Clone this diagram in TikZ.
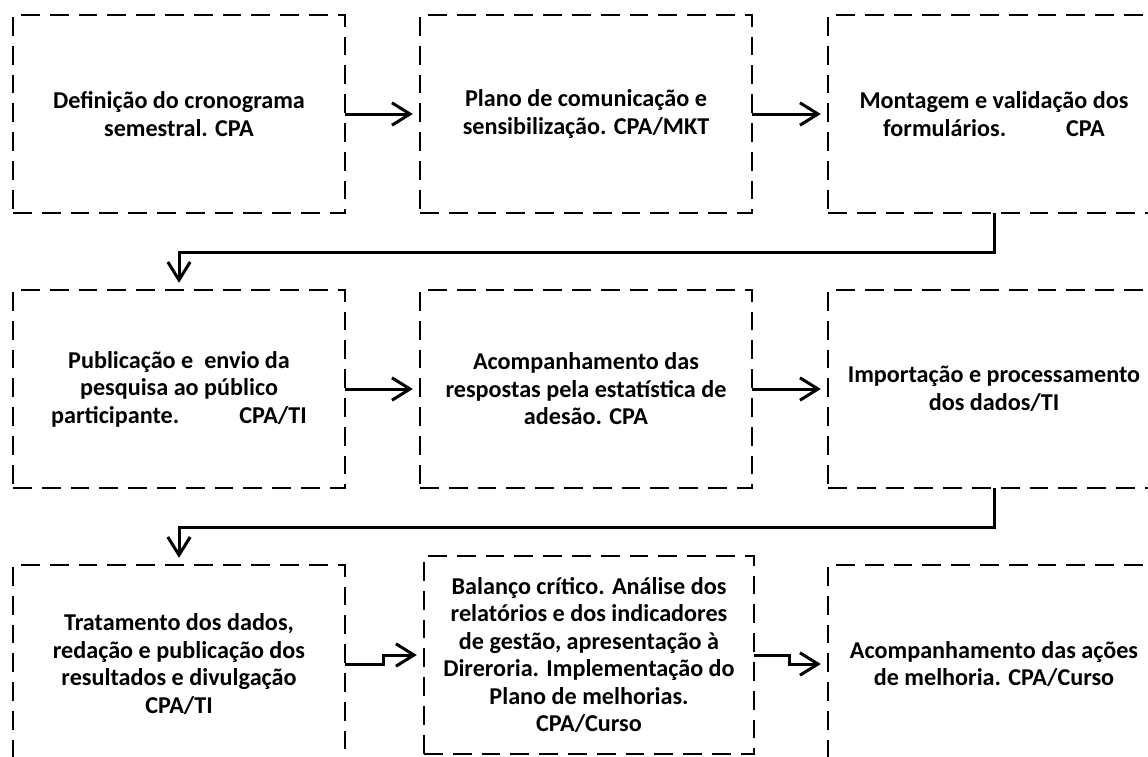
\documentclass[tikz,border=0pt]{standalone}
\usepackage{fontspec}
\setmainfont{Carlito}
\usetikzlibrary{arrows.meta, positioning}

\begin{document}
\begin{tikzpicture}[
    >={Straight Barb[length=0.45cm, width=0.56cm]},
    etapa/.style={draw, dash pattern=on 0.47cm off 0.25cm, line width=0.06cm,
        minimum width=8.3cm, minimum height=4.95cm, inner sep=0pt, outer sep=0pt,
        align=center, font=\bfseries\fontsize{17.2}{19.6}\selectfont},
    seta/.style={->, line width=0.075cm, shorten >=0.18cm}
]
    \useasboundingbox (0,0) rectangle (28.7,-18.9);
    \clip (0,0) rectangle (28.7,-18.9);

    % Row 1
    \node[etapa] (B1) at (4.475,-2.85) {Definição do cronograma\\semestral. CPA};
    \node[etapa, right=1.875cm of B1] (B2) {Plano de comunicação e\\sensibilização. CPA/MKT};
    \node[etapa, right=1.9cm of B2] (B3) {Montagem e validação dos\\formulários.\hspace{1.5cm}CPA};

    % Row 2
    \node[etapa, below=1.925cm of B1] (B4) {Publicação e~ envio da\\pesquisa ao público\\participante.\hspace{1.5cm}CPA/TI};
    \node[etapa, below=1.925cm of B2] (B5) {Acompanhamento das\\respostas pela estatística de\\adesão. CPA};
    \node[etapa, below=1.925cm of B3] (B6) {Importação e processamento\\dos dados/TI};

    % Row 3
    \node[etapa, below=1.925cm of B4] (B7) {Tratamento dos dados,\\redação e publicação dos\\resultados e divulgação\\CPA/TI};
    \node[etapa, minimum width=8.25cm] (B8) at (14.725,-16.375) {Balanço crítico. Análise dos\\relatórios e dos indicadores\\de gestão, apresentação à\\Direroria. Implementação do\\Plano de melhorias.\\CPA/Curso};
    \node[etapa, below=1.925cm of B6] (B9) {Acompanhamento das ações\\de melhoria. CPA/Curso};

    % Arrows
    \draw[seta] (B1) -- (B2);
    \draw[seta] (B2) -- (B3);
    \draw[seta] (B3.south) -- ++(0,-0.975) -| (B4.north);
    \draw[seta] (B4) -- (B5);
    \draw[seta] (B5) -- (B6);
    \draw[seta] (B6.south) -- ++(0,-0.975) -| (B7.north);
    \draw[seta] (B7.east) -- ++(0.95,0) |- (B8.west);
    \draw[seta] (B8.east) -- ++(0.875,0) |- (B9.west);
\end{tikzpicture}
\end{document}
